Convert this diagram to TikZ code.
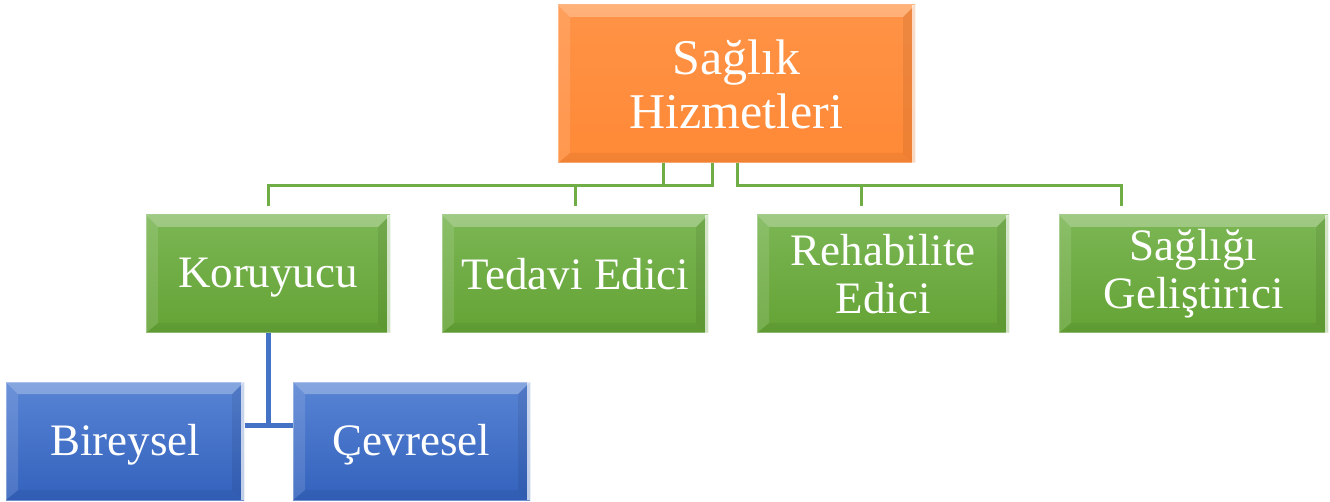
\documentclass[tikz,border=0pt]{standalone}
\usepackage{fontspec}
\setmainfont{Liberation Serif}
\definecolor{orangeTop}{HTML}{FF9347}
\definecolor{orangeBot}{HTML}{FF8936}
\definecolor{greenTop}{HTML}{7BB654}
\definecolor{greenBot}{HTML}{64A335}
\definecolor{blueTop}{HTML}{5884D4}
\definecolor{blueBot}{HTML}{3362BD}
\definecolor{greenLine}{HTML}{70AD47}
\definecolor{blueLine}{HTML}{4472C4}
\tikzset{
  bevel/.style={path picture={
    % top facet
    \fill[white,opacity=.28] (path picture bounding box.north west) -- (path picture bounding box.north east)
      -- ([shift={(-12pt,-12pt)}]path picture bounding box.north east) -- ([shift={(12pt,-12pt)}]path picture bounding box.north west) -- cycle;
    % left facet
    \fill[white,opacity=.12] (path picture bounding box.north west) -- ([shift={(12pt,-12pt)}]path picture bounding box.north west)
      -- ([shift={(12pt,10pt)}]path picture bounding box.south west) -- (path picture bounding box.south west) -- cycle;
    % right facet
    \fill[black,opacity=.07] (path picture bounding box.north east) -- ([shift={(-12pt,-12pt)}]path picture bounding box.north east)
      -- ([shift={(-12pt,10pt)}]path picture bounding box.south east) -- (path picture bounding box.south east) -- cycle;
    % bottom facet
    \fill[black,opacity=.05] (path picture bounding box.south west) -- ([shift={(12pt,10pt)}]path picture bounding box.south west)
      -- ([shift={(-12pt,10pt)}]path picture bounding box.south east) -- (path picture bounding box.south east) -- cycle;
    % bright right rim
    \fill[white,opacity=.7] ([xshift=-3pt]path picture bounding box.north east) rectangle (path picture bounding box.south east);
  }},
  box/.style={rectangle, inner sep=0pt, align=center, text=white, bevel,
    draw=white, draw opacity=.3, line width=1pt,
    font=\fontsize{45}{48}\selectfont},
  rootbox/.style={box, top color=orangeTop, bottom color=orangeBot,
    minimum width=357pt, minimum height=158pt, font=\fontsize{50}{54}\selectfont},
  midbox/.style={box, top color=greenTop, bottom color=greenBot, minimum height=118pt},
  leafbox/.style={box, top color=blueTop, bottom color=blueBot, minimum height=118pt},
  oneline/.style={text depth=2pt},
  gline/.style={draw=greenLine, line width=3pt},
  bline/.style={draw=blueLine, line width=5pt},
}
\begin{document}
\begin{tikzpicture}[x=1pt,y=-1pt]
\useasboundingbox (0,0) rectangle (1330,502);

% boxes
\node[rootbox] (root) at (736.5,84) {Sağlık\\Hizmetleri};
\node[midbox, oneline, minimum width=244pt] (kor) at (268,274) {Koruyucu};
\node[midbox, minimum width=266pt] (ted) at (575,274) {Tedavi Edici};
\node[midbox, minimum width=252pt] (reh) at (883,274) {Rehabilite\\Edici};
\node[midbox, minimum width=269pt] (sag) at (1193.5,274) {Sağlığı\\Geliştirici};
\node[leafbox, oneline, minimum width=238pt] (bir) at (125,441) {Bireysel};
\node[leafbox, oneline, minimum width=237pt] (cev) at (411.5,441) {Çevresel};

% connectors from the top box to the second row
\draw[gline] ([xshift=-73.5pt]root.south) -- ++(0,22) -| ([yshift=8pt]kor.north);
\draw[gline] ([xshift=-24.5pt]root.south) -- ++(0,22) -| ([yshift=8pt]ted.north);
\draw[gline] ([xshift=0.5pt]root.south) -- ++(0,22) -| ([xshift=-22pt,yshift=8pt]reh.north);
\draw[gline] ([xshift=0.5pt]root.south) -- ++(0,22) -| ([xshift=-72.5pt,yshift=8pt]sag.north);

% connectors below the first green box
\draw[bline] (kor.south) -- ++(0,92) coordinate (kj);
\draw[bline] (bir.east |- kj) -- (cev.west |- kj);
\end{tikzpicture}
\end{document}
